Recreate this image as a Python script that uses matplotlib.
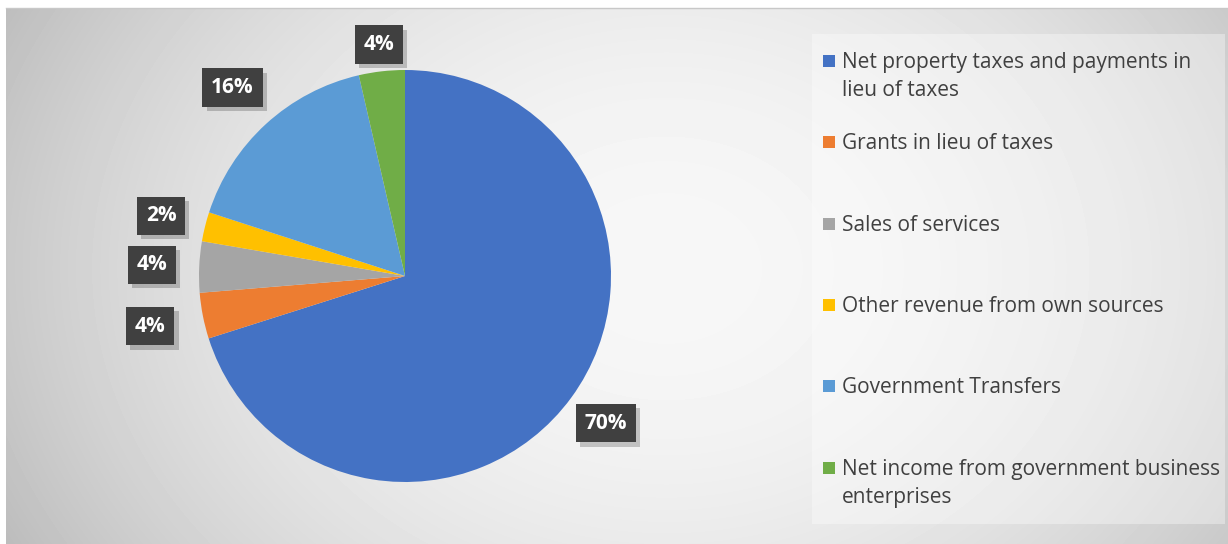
import numpy as np
import matplotlib
matplotlib.use("Agg")
import matplotlib.pyplot as plt
from matplotlib.patches import Rectangle
import matplotlib.patheffects as pe

W, H = 1228, 544
categories = ["Net property taxes and payments in\nlieu of taxes",
              "Grants in lieu of taxes",
              "Sales of services",
              "Other revenue from own sources",
              "Government Transfers",
              "Net income from government business\nenterprises"]
shares = [70.1, 3.6, 4.0, 2.3, 16.4, 3.6]
pct_labels = ["70%", "4%", "4%", "2%", "16%", "4%"]
colors = ["#4472C4", "#ED7D31", "#A5A5A5", "#FFC000", "#5B9BD5", "#70AD47"]

fig = plt.figure(figsize=(W / 100, H / 100), dpi=100)

# chart area background: soft radial gradient
bg = fig.add_axes([6 / W, 0, 1 - 6 / W, 1 - 8 / H])
yy, xx = np.mgrid[0:536, 0:1222]
r2 = ((xx - 660) / 660) ** 2 + ((yy - 260) / 520) ** 2
v = np.clip(247 - 46 * r2, 185, 250) / 255
bg.imshow(v, cmap="gray", vmin=0, vmax=1, aspect="auto", interpolation="bilinear")
bg.axis("off")
# thin top border
fig.add_artist(plt.Line2D([6 / W, 1], [1 - 7.5 / H] * 2, color="#c8c8c8", lw=1))

# pie: center (405, 276), radius ~206 px
R = 206
ax = fig.add_axes([(405 - R) / W, (H - 276 - R) / H, 2 * R / W, 2 * R / H])
wedges, _ = ax.pie(shares, colors=colors, startangle=90, counterclock=False,
                   radius=1, wedgeprops=dict(linewidth=0))
ax.set_xlim(-1, 1); ax.set_ylim(-1, 1)
ax.set_aspect("auto")
ax.axis("off")

# data labels outside the wedges
dist = [1.21, 1.26, 1.23, 1.22, 1.24, 1.13]
for w, lab, d in zip(wedges, pct_labels, dist):
    ang = np.deg2rad((w.theta1 + w.theta2) / 2)
    t = ax.text(d * np.cos(ang), d * np.sin(ang), lab, ha="center", va="center",
                color="white", fontsize=15, fontweight="bold", family="Open Sans",
                bbox=dict(boxstyle="square,pad=0.42", fc="#404040", ec="none"),
                clip_on=False)
    t.get_bbox_patch().set_path_effects(
        [pe.SimplePatchShadow(offset=(3, -3), alpha=0.22), pe.Normal()])

# legend panel
fig.add_artist(Rectangle((812 / W, 1 - 524 / H), (1225 - 812) / W, (524 - 34) / H,
                         transform=fig.transFigure, fc="white", alpha=0.35, ec="none"))
ys = [61, 142, 224, 305, 386, 468]
for lab, c, y in zip(categories, colors, ys):
    fig.add_artist(Rectangle((823 / W, 1 - (y + 6) / H), 12 / W, 12 / H,
                             transform=fig.transFigure, fc=c, ec="none"))
    fig.text(842 / W, 1 - (y - 9) / H, lab, ha="left", va="top", fontsize=15,
             family="Open Sans", color="#404040", linespacing=1.45)

fig.savefig("out.png", dpi=100)
